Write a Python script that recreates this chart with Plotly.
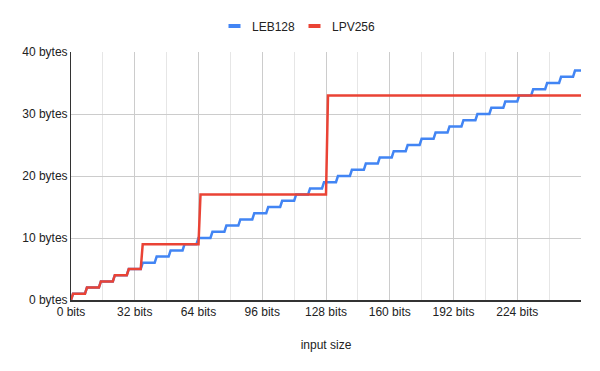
import plotly.graph_objects as go

bits = list(range(257))

leb128 = [
    0,
    1, 1, 1, 1, 1, 1, 1,
    2, 2, 2, 2, 2, 2, 2,
    3, 3, 3, 3, 3, 3, 3,
    4, 4, 4, 4, 4, 4, 4,
    5, 5, 5, 5, 5, 5, 5,
    6, 6, 6, 6, 6, 6, 6,
    7, 7, 7, 7, 7, 7, 7,
    8, 8, 8, 8, 8, 8, 8,
    9, 9, 9, 9, 9, 9, 9,
    10, 10, 10, 10, 10, 10, 10,
    11, 11, 11, 11, 11, 11, 11,
    12, 12, 12, 12, 12, 12, 12,
    13, 13, 13, 13, 13, 13, 13,
    14, 14, 14, 14, 14, 14, 14,
    15, 15, 15, 15, 15, 15, 15,
    16, 16, 16, 16, 16, 16, 16,
    17, 17, 17, 17, 17, 17, 17,
    18, 18, 18, 18, 18, 18, 18,
    19, 19, 19, 19, 19, 19, 19,
    20, 20, 20, 20, 20, 20, 20,
    21, 21, 21, 21, 21, 21, 21,
    22, 22, 22, 22, 22, 22, 22,
    23, 23, 23, 23, 23, 23, 23,
    24, 24, 24, 24, 24, 24, 24,
    25, 25, 25, 25, 25, 25, 25,
    26, 26, 26, 26, 26, 26, 26,
    27, 27, 27, 27, 27, 27, 27,
    28, 28, 28, 28, 28, 28, 28,
    29, 29, 29, 29, 29, 29, 29,
    30, 30, 30, 30, 30, 30, 30,
    31, 31, 31, 31, 31, 31, 31,
    32, 32, 32, 32, 32, 32, 32,
    33, 33, 33, 33, 33, 33, 33,
    34, 34, 34, 34, 34, 34, 34,
    35, 35, 35, 35, 35, 35, 35,
    36, 36, 36, 36, 36, 36, 36,
    37, 37, 37, 37,
]

lpv256 = [
    0,
    1, 1, 1, 1, 1, 1, 1,
    2, 2, 2, 2, 2, 2, 2,
    3, 3, 3, 3, 3, 3, 3,
    4, 4, 4, 4, 4, 4, 4,
    5, 5, 5, 5, 5, 5, 5,
    9, 9, 9, 9, 9, 9, 9, 9, 9, 9, 9, 9, 9, 9, 9, 9,
    9, 9, 9, 9, 9, 9, 9, 9, 9, 9, 9, 9, 9,
    17, 17, 17, 17, 17, 17, 17, 17, 17, 17, 17, 17, 17, 17, 17, 17,
    17, 17, 17, 17, 17, 17, 17, 17, 17, 17, 17, 17, 17, 17, 17, 17,
    17, 17, 17, 17, 17, 17, 17, 17, 17, 17, 17, 17, 17, 17, 17, 17,
    17, 17, 17, 17, 17, 17, 17, 17, 17, 17, 17, 17, 17, 17, 17, 17,
    33, 33, 33, 33, 33, 33, 33, 33, 33, 33, 33, 33, 33, 33, 33, 33,
    33, 33, 33, 33, 33, 33, 33, 33, 33, 33, 33, 33, 33, 33, 33, 33,
    33, 33, 33, 33, 33, 33, 33, 33, 33, 33, 33, 33, 33, 33, 33, 33,
    33, 33, 33, 33, 33, 33, 33, 33, 33, 33, 33, 33, 33, 33, 33, 33,
    33, 33, 33, 33, 33, 33, 33, 33, 33, 33, 33, 33, 33, 33, 33, 33,
    33, 33, 33, 33, 33, 33, 33, 33, 33, 33, 33, 33, 33, 33, 33, 33,
    33, 33, 33, 33, 33, 33, 33, 33, 33, 33, 33, 33, 33, 33, 33, 33,
    33, 33, 33, 33, 33, 33, 33, 33, 33, 33, 33, 33, 33, 33, 33, 33,
]

series_names = ["LEB128", "LPV256"]
series_colors = ["#4285F4", "#EA4335"]

x_tickvals = [0, 32, 64, 96, 128, 160, 192, 224, 256]
x_ticktext = ["0 bits", "32 bits", "64 bits", "96 bits", "128 bits",
              "160 bits", "192 bits", "224 bits", ""]
y_tickvals = [0, 10, 20, 30, 40]
y_ticktext = ["0 bytes", "10 bytes", "20 bytes", "30 bytes", "40 bytes"]

FONT = "Liberation Sans, Arial, sans-serif"
TXT = "#222222"

W, H = 600, 371
L, R, T, B = 71, 19, 52, 71
PW, PH = W - L - R, H - T - B


def px_x(px):
    return (px - L) / PW


def px_y(py):
    return (H - B - py) / PH


fig = go.Figure()
for name, vals, col in zip(series_names, [leb128, lpv256], series_colors):
    fig.add_trace(go.Scatter(x=bits, y=vals, mode="lines", name=name,
                             line=dict(color=col, width=2.5), showlegend=False))

# Manual legend (short rounded bars + labels), like the reference
legend_sym_x = [228.5, 308.5]
legend_txt_x = [249.5, 329.5]
for name, col, sx, tx in zip(series_names, series_colors, legend_sym_x, legend_txt_x):
    fig.add_shape(type="rect", xref="paper", yref="paper",
                  x0=px_x(sx), x1=px_x(sx + 12), y0=px_y(28), y1=px_y(24),
                  fillcolor=col, line=dict(width=0))
    fig.add_annotation(xref="paper", yref="paper", x=px_x(tx), y=px_y(26.5),
                       text=name, showarrow=False, xanchor="left", yanchor="middle",
                       font=dict(family=FONT, size=12, color=TXT))

fig.update_layout(
    width=W, height=H,
    margin=dict(l=L, r=R, t=T, b=B, autoexpand=False),
    paper_bgcolor="white", plot_bgcolor="white",
    font=dict(family=FONT, size=12, color=TXT),
    showlegend=False,
    xaxis=dict(
        range=[0, 256], tickvals=x_tickvals, ticktext=x_ticktext,
        showgrid=True, gridcolor="#cccccc", gridwidth=1,
        minor=dict(tickvals=[16, 48, 80, 112, 144, 176, 208, 240],
                   showgrid=True, gridcolor="#e6e6e6", gridwidth=1),
        zeroline=False, showline=True, linecolor="#333333", linewidth=1.5,
        ticks="", tickfont=dict(size=12, color=TXT),
        title=dict(text="input size", font=dict(size=12, color=TXT), standoff=22),
        fixedrange=True,
    ),
    yaxis=dict(
        range=[0, 40], tickvals=y_tickvals, ticktext=y_ticktext,
        showgrid=True, gridcolor="#cccccc", gridwidth=1,
        zeroline=False, showline=True, linecolor="#333333", linewidth=1,
        ticks="", tickfont=dict(size=12, color=TXT),
        fixedrange=True,
    ),
)

fig.write_html("out.html")
